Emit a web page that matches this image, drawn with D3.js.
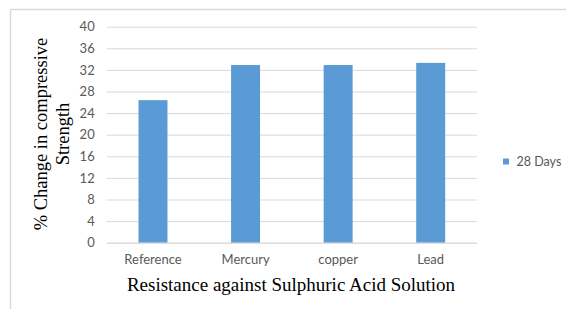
<!DOCTYPE html>
<html><head><meta charset="utf-8">
<script src="https://cdn.jsdelivr.net/npm/d3@7"></script>
<style>html,body{margin:0;padding:0;background:#fff;}svg{display:block;}</style>
</head><body>
<svg id="chart" width="566" height="309"></svg>
<script>
const categories = ["Reference", "Mercury", "copper", "Lead"];
const values28Days = [26.4, 32.9, 32.9, 33.3];
const yTicks = [0, 4, 8, 12, 16, 20, 24, 28, 32, 36, 40];
const seriesName = "28 Days";
const xTitle = "Resistance against Sulphuric Acid Solution";
const yTitleLines = ["% Change in compressive", "Strength"];

const svg = d3.select("#chart");
const m = {left: 106.7, right: 477, top: 26.7, bottom: 242.7};

// chart border (top and left only visible)
svg.append("line").attr("x1", 10.5).attr("x2", 566).attr("y1", 9.5).attr("y2", 9.5)
  .attr("stroke", "#d9d9d9").attr("stroke-width", 1.5);
svg.append("line").attr("x1", 10.5).attr("x2", 10.5).attr("y1", 9.5).attr("y2", 309)
  .attr("stroke", "#d9d9d9").attr("stroke-width", 1.5);

const x = d3.scaleBand().domain(categories).range([m.left, m.right]).paddingInner(0.687).paddingOuter(0.3435);
const y = d3.scaleLinear().domain([0, 40]).range([m.bottom, m.top]);

// gridlines
const yAxis = d3.axisLeft(y).tickValues(yTicks).tickSize(-(m.right - m.left)).tickPadding(12);
const gy = svg.append("g").attr("transform", `translate(${m.left},0)`).call(yAxis);
gy.select(".domain").remove();
gy.selectAll(".tick line").attr("stroke", "#d9d9d9").attr("stroke-width", 1);
gy.selectAll(".tick text").attr("fill", "#595959").attr("font-family", "Lato, 'Open Sans', sans-serif").attr("font-size", 13);

// bars
svg.append("g").selectAll("rect").data(values28Days).join("rect")
  .attr("x", (d, i) => x(categories[i]))
  .attr("width", x.bandwidth())
  .attr("y", d => y(d))
  .attr("height", d => y(0) - y(d))
  .attr("fill", "#5b9bd5");

// x axis
const xAxis = d3.axisBottom(x).tickSize(0).tickPadding(12);
const gx = svg.append("g").attr("transform", `translate(0,${m.bottom})`).call(xAxis);
gx.select(".domain").attr("stroke", "#d9d9d9");
gx.selectAll(".tick text").attr("fill", "#595959").attr("font-family", "Lato, 'Open Sans', sans-serif").attr("font-size", 13);

// x title
svg.append("text").attr("x", 291).attr("y", 291).attr("text-anchor", "middle")
  .attr("font-family", "'Liberation Serif', 'Times New Roman', serif").attr("font-size", 19)
  .attr("fill", "#000").text(xTitle);

// y title
const yt = svg.append("text").attr("transform", "translate(47,134) rotate(-90)")
  .attr("text-anchor", "middle")
  .attr("font-family", "'Liberation Serif', 'Times New Roman', serif").attr("font-size", 18.5).attr("fill", "#000");
yTitleLines.forEach((t, i) => yt.append("tspan").attr("x", 0).attr("dy", i === 0 ? 0 : 22).text(t));

// legend
const lg = svg.append("g").attr("transform", "translate(503,158.5)");
lg.append("rect").attr("width", 6).attr("height", 6).attr("fill", "#5b9bd5");
lg.append("text").attr("x", 13.5).attr("y", 3).attr("dy", "0.35em")
  .attr("fill", "#595959").attr("font-family", "Lato, 'Open Sans', sans-serif").attr("font-size", 12.5).text(seriesName);
</script>
</body></html>
